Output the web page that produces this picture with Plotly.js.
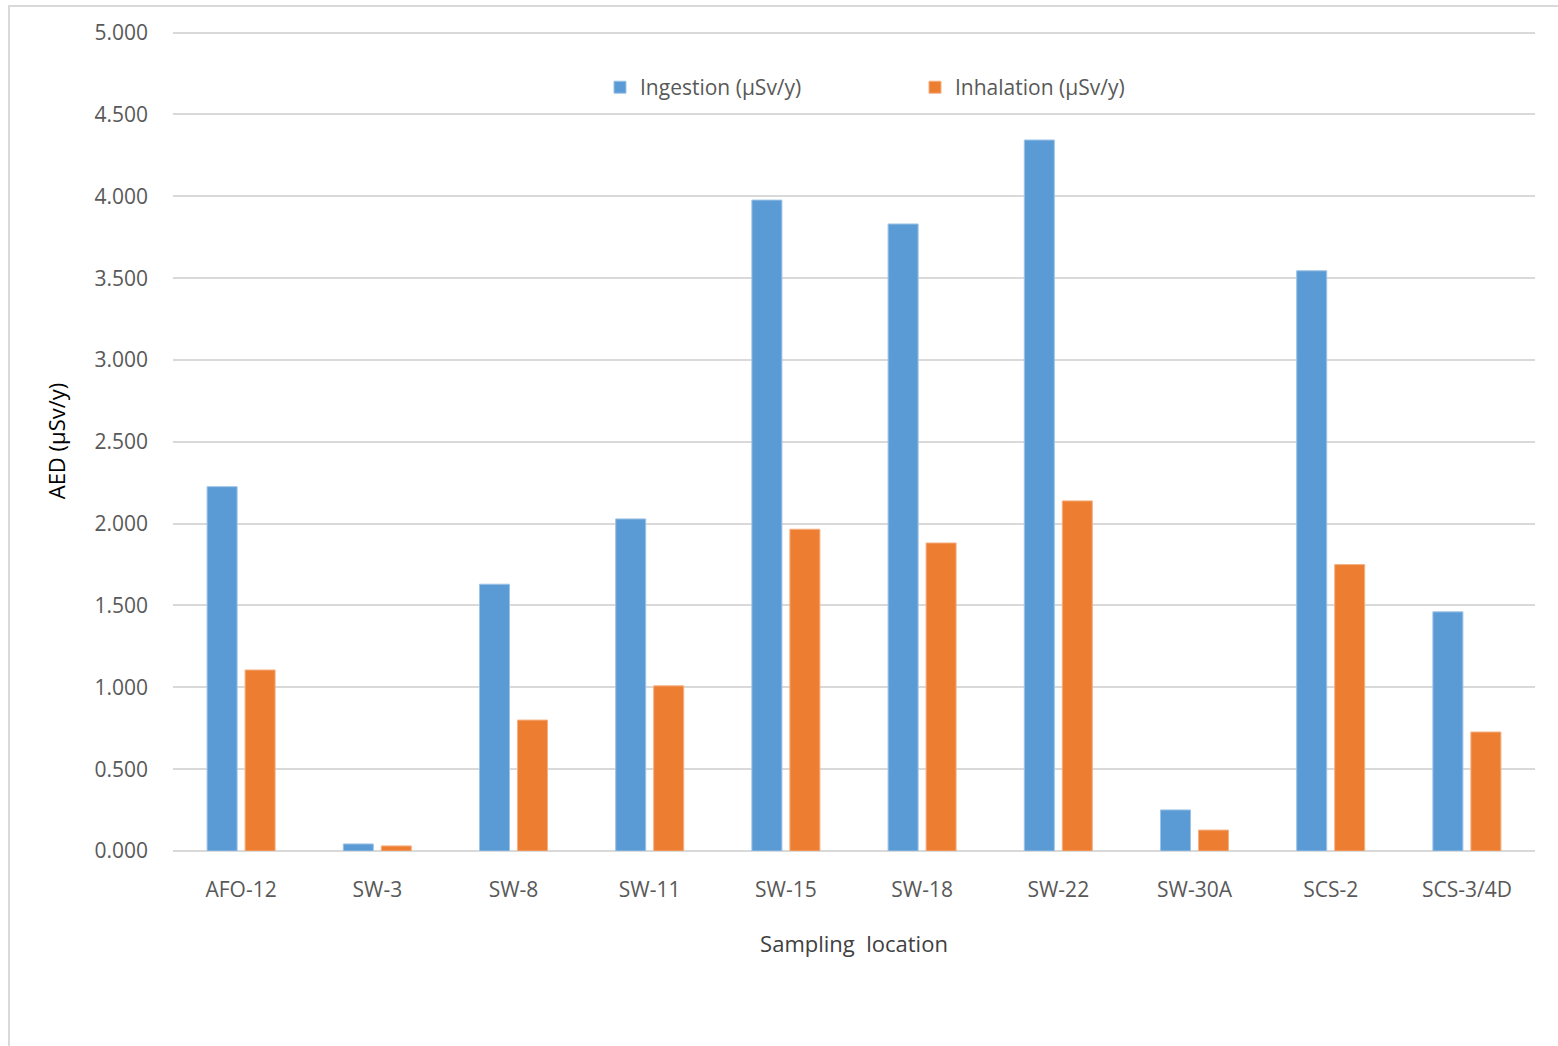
<!DOCTYPE html>
<html>
<head>
<meta charset="utf-8">
<script src="https://cdn.plot.ly/plotly-3.0.1.min.js"></script>
<style>
html,body{margin:0;padding:0;background:#fff;}
#chart{width:1558px;height:1046px;}
</style>
</head>
<body>
<div id="chart"></div>
<script>
const categories = ["AFO-12","SW-3","SW-8","SW-11","SW-15","SW-18","SW-22","SW-30A","SCS-2","SCS-3/4D"];
const ingestion = [2.226,0.043,1.630,2.029,3.977,3.831,4.344,0.251,3.545,1.461];
const inhalation = [1.106,0.031,0.800,1.009,1.966,1.882,2.139,0.128,1.750,0.727];
const seriesNames = ["Ingestion (\u03bcSv/y)","Inhalation (\u03bcSv/y)"];
const tickVals = [0,0.5,1,1.5,2,2.5,3,3.5,4,4.5,5];
const tickText = ["0.000","0.500","1.000","1.500","2.000","2.500","3.000","3.500","4.000","4.500","5.000"];

const font = "Open Sans, Noto Sans, sans-serif";
const traces = [
  {type:"bar", name:seriesNames[0], x:categories, y:ingestion,
   marker:{color:"#5b9bd5", line:{color:"#9dc3e6", width:1}}},
  {type:"bar", name:seriesNames[1], x:categories, y:inhalation,
   marker:{color:"#ed7d31", line:{color:"#f4b183", width:1}}}
];
const layout = {
  width:1558, height:1046,
  paper_bgcolor:"#fff", plot_bgcolor:"#fff",
  margin:{l:173, r:23, t:31, b:195},
  barmode:"group", bargap:0.442, bargroupgap:0.21,
  font:{family:font, color:"#595959", size:21},
  showlegend:true,
  legend:{orientation:"h", x:0.3135, y:0.931, xanchor:"left", yanchor:"middle",
          font:{family:font, size:21, color:"#595959"}, traceorder:"normal",
          itemwidth:30, entrywidth:270, entrywidthmode:"pixels", bgcolor:"rgba(0,0,0,0)"},
  xaxis:{type:"category", showgrid:false, zeroline:false, showline:false,
         ticks:"", ticklen:0, ticklabelstandoff:24, tickfont:{family:font, size:21, color:"#595959"},
         title:{text:"Sampling&nbsp;&nbsp;location", font:{family:font, size:22, color:"#404040"}, standoff:34}},
  yaxis:{range:[0,5.01], tickvals:tickVals, ticktext:tickText, showgrid:true,
         gridcolor:"#d9d9d9", gridwidth:2, zeroline:true, zerolinecolor:"#d9d9d9", zerolinewidth:2,
         showline:false, ticks:"", tickfont:{family:font, size:21, color:"#595959"},
         ticklabelstandoff:24,
         title:{text:"AED (\u03bcSv/y)", font:{family:font, size:22, color:"#000"}, standoff:22}},
  shapes:[{type:"rect", xref:"paper", yref:"paper", x0:-0.1204, x1:1.2, y0:-0.30, y1:1.0305,
           line:{color:"#d9d9d9", width:2}, fillcolor:"rgba(0,0,0,0)", layer:"below"}]
};
Plotly.newPlot("chart", traces, layout, {displayModeBar:false, staticPlot:true});
</script>
</body>
</html>
